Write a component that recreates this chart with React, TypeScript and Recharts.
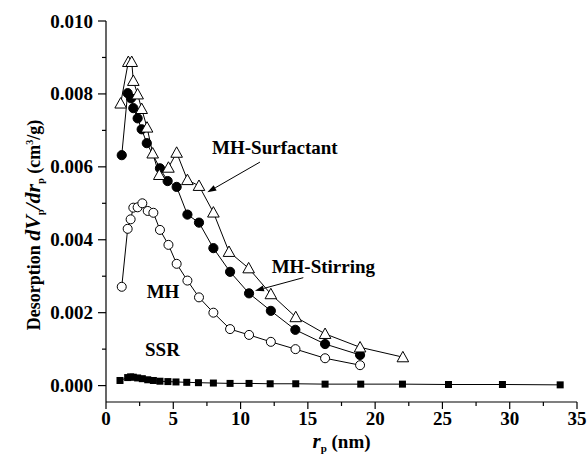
import React from 'react';
import { ComposedChart, Line, XAxis, YAxis, ReferenceLine, ReferenceDot } from 'recharts';

// MH-Surfactant (open triangles)
const surfX = [1.09, 1.66, 1.91, 2.03, 2.35, 2.65, 3.05, 3.47, 3.96, 4.64, 5.25, 6.05, 6.91, 7.98, 9.14, 10.6, 12.25, 14.1, 16.28, 18.88, 22.06];
const surfY = [0.00774, 0.00888, 0.00888, 0.00836, 0.00799, 0.00759, 0.00708, 0.00637, 0.00578, 0.00598, 0.00639, 0.00564, 0.00548, 0.00475, 0.00367, 0.00322, 0.00251, 0.00188, 0.00142, 0.00105, 0.00078];

// MH-Stirring (filled circles)
const stirX = [1.17, 1.61, 1.86, 2.03, 2.35, 2.65, 3.03, 4.01, 4.58, 5.25, 6.05, 6.91, 7.98, 9.22, 10.63, 12.25, 14.07, 16.28, 18.88];
const stirY = [0.00632, 0.00802, 0.00788, 0.00761, 0.00733, 0.00703, 0.00665, 0.00596, 0.00561, 0.00545, 0.00469, 0.00447, 0.00377, 0.00312, 0.00253, 0.00205, 0.00153, 0.00114, 0.00084];

// MH (open circles)
const mhX = [1.17, 1.61, 1.83, 2.03, 2.35, 2.7, 3.1, 3.52, 4.01, 4.64, 5.25, 6.05, 6.91, 7.98, 9.22, 10.63, 12.25, 14.08, 16.28, 18.88];
const mhY = [0.00271, 0.0043, 0.00456, 0.00488, 0.00489, 0.005, 0.00479, 0.00474, 0.00427, 0.00386, 0.00334, 0.00288, 0.00242, 0.002, 0.00155, 0.00139, 0.0012, 0.001, 0.00075, 0.00056];

// SSR (filled squares)
const ssrX = [1.04, 1.61, 1.83, 2.03, 2.35, 2.7, 3.1, 3.52, 4.01, 4.6, 5.2, 6.0, 6.87, 7.98, 9.22, 10.63, 12.2, 14.1, 16.28, 18.93, 22.03, 25.45, 29.46, 33.75];
const ssrY = [0.00014, 0.00022, 0.00024, 0.00023, 0.00021, 0.00019, 0.00016, 0.00014, 0.00012, 0.00011, 0.0001, 0.00009, 0.00008, 0.00007, 0.00006, 0.00006, 0.00005, 0.00005, 0.00004, 0.00004, 0.00004, 0.00003, 0.00003, 0.00002];

const xTicks = [0, 2.5, 5, 7.5, 10, 12.5, 15, 17.5, 20, 22.5, 25, 27.5, 30, 32.5, 35];
const yTicks = [0, 0.001, 0.002, 0.003, 0.004, 0.005, 0.006, 0.007, 0.008, 0.009, 0.01];
const xDomain = [0, 35];
const yDomain = [-0.00045, 0.01];

// annotations [x, y] in data units
const labelSurf = { text: 'MH-Surfactant', x: 7.88, y: 0.00654 };
const arrowSurf = [{ x: 11.44, y: 0.00613 }, { x: 7.53, y: 0.0053 }];
const labelStir = { text: 'MH-Stirring', x: 12.31, y: 0.00327 };
const arrowStir = [{ x: 14.66, y: 0.00296 }, { x: 11.07, y: 0.0026 }];
const labelMH = { text: 'MH', x: 3.02, y: 0.00258 };
const labelSSR = { text: 'SSR', x: 2.9, y: 0.00098 };

const zip = (xs: number[], ys: number[]) => xs.map((x, i) => ({ x, y: ys[i] }));
const surfData = zip(surfX, surfY);
const stirData = zip(stirX, stirY);
const mhData = zip(mhX, mhY);
const ssrData = zip(ssrX, ssrY);

const FONT = '"Liberation Serif", "Times New Roman", serif';

const XTick = (props: any) => {
  const { x, y, payload } = props;
  const v = payload.value;
  const major = Math.abs(v % 5) < 1e-9;
  return (
    <g>
      <line x1={x} x2={x} y1={y} y2={y + (major ? 7 : 4)} stroke="#000" strokeWidth={1.2} />
      {major && (
        <text x={x} y={y + 23} textAnchor="middle" fontFamily={FONT} fontWeight="bold" fontSize={19} fill="#000">
          {v}
        </text>
      )}
    </g>
  );
};

const YTick = (props: any) => {
  const { x, y, payload } = props;
  const v = payload.value;
  const major = Math.round(v * 1000) % 2 === 0;
  return (
    <g>
      <line x1={x} x2={x - (major ? 8 : 4)} y1={y} y2={y} stroke="#000" strokeWidth={1.2} />
      {major && (
        <text x={x - 13} y={y + 6.5} textAnchor="end" fontFamily={FONT} fontWeight="bold" fontSize={19} fill="#000">
          {v.toFixed(3)}
        </text>
      )}
    </g>
  );
};

const triDot = (p: any) => {
  const { cx, cy, index } = p;
  const s = 5.8;
  return (
    <path key={`t${index}`} d={`M${cx},${cy - s} L${cx + s},${cy + s * 0.8} L${cx - s},${cy + s * 0.8} Z`} fill="#fff" stroke="#000" strokeWidth={1} />
  );
};
const fillCircle = (p: any) => <circle key={`f${p.index}`} cx={p.cx} cy={p.cy} r={4.6} fill="#000" stroke="#000" />;
const openCircle = (p: any) => <circle key={`o${p.index}`} cx={p.cx} cy={p.cy} r={4.5} fill="#fff" stroke="#000" strokeWidth={1} />;
const squareDot = (p: any) => <rect key={`s${p.index}`} x={p.cx - 3.5} y={p.cy - 3.5} width={7} height={7} fill="#000" />;

const Arrow = (props: any) => {
  const { x1, y1, x2, y2 } = props;
  const dx = x2 - x1;
  const dy = y2 - y1;
  const len = Math.sqrt(dx * dx + dy * dy) || 1;
  const ux = dx / len;
  const uy = dy / len;
  const L = 9;
  const W = 3;
  const bx = x2 - ux * L;
  const by = y2 - uy * L;
  return (
    <g>
      <line x1={x1} y1={y1} x2={bx} y2={by} stroke="#000" strokeWidth={1} />
      <polygon points={`${x2},${y2} ${bx - uy * W},${by + ux * W} ${bx + uy * W},${by - ux * W}`} fill="#000" />
    </g>
  );
};

const makeLabel = (text: string) => (p: any) => (
  <text x={p.cx} y={p.cy} dominantBaseline="central" textAnchor="start" fontFamily={FONT} fontWeight="bold" fontSize={19} fill="#000">
    {text}
  </text>
);

const XTitle = (props: any) => {
  const vb = props.viewBox || { x: 106, y: 402, width: 471 };
  const cx = vb.x + vb.width / 2;
  return (
    <text x={cx} y={vb.y + 46} textAnchor="middle" fontFamily={FONT} fontWeight="bold" fontSize={19} fill="#000">
      <tspan fontStyle="italic" fontSize={21}>r</tspan>
      <tspan fontSize={11} dy={4}>p</tspan>
      <tspan dy={-4}> (nm)</tspan>
    </text>
  );
};

const YTitle = () => (
  <text x={0} y={0} transform="translate(40,225) rotate(-90)" textAnchor="middle" fontFamily={FONT} fontWeight="bold" fontSize={18} fill="#000">
    <tspan>Desorption </tspan>
    <tspan fontStyle="italic" fontSize={22}>dV</tspan>
    <tspan fontSize={10} dy={4}>p</tspan>
    <tspan fontStyle="italic" fontSize={22} dy={-4}>/dr</tspan>
    <tspan fontSize={10} dy={4}>p</tspan>
    <tspan dy={-4}> (cm</tspan>
    <tspan fontSize={10} dy={-7}>3</tspan>
    <tspan dy={7}>/g)</tspan>
  </text>
);

export default function App() {
  return (
    <div style={{ position: 'absolute', left: 0, top: 0, width: 588, height: 459, background: '#fff' }}>
      <ComposedChart width={588} height={459} margin={{ top: 21, right: 11, bottom: 27, left: 46 }}>
        <XAxis
          type="number"
          dataKey="x"
          domain={xDomain}
          ticks={xTicks}
          interval={0}
          allowDataOverflow
          height={30}
          tickSize={0}
          tickMargin={0}
          tickLine={false}
          axisLine={{ stroke: '#000', strokeWidth: 1.2 }}
          tick={<XTick />}
          label={<XTitle />}
        />
        <YAxis
          type="number"
          domain={yDomain}
          ticks={yTicks}
          interval={0}
          allowDataOverflow
          width={60}
          tickSize={0}
          tickMargin={0}
          tickLine={false}
          axisLine={{ stroke: '#000', strokeWidth: 1.2 }}
          tick={<YTick />}
        />
        <Line data={ssrData} dataKey="y" type="linear" stroke="#000" strokeWidth={1} dot={squareDot} isAnimationActive={false} />
        <Line data={mhData} dataKey="y" type="linear" stroke="#000" strokeWidth={1} dot={openCircle} isAnimationActive={false} />
        <Line data={stirData} dataKey="y" type="linear" stroke="#000" strokeWidth={1} dot={fillCircle} isAnimationActive={false} />
        <Line data={surfData} dataKey="y" type="linear" stroke="#000" strokeWidth={1} dot={triDot} isAnimationActive={false} />
        <ReferenceLine segment={arrowSurf} shape={Arrow} ifOverflow="visible" />
        <ReferenceLine segment={arrowStir} shape={Arrow} ifOverflow="visible" />
        <ReferenceDot x={labelSurf.x} y={labelSurf.y} r={0} shape={makeLabel(labelSurf.text)} ifOverflow="visible" />
        <ReferenceDot x={labelStir.x} y={labelStir.y} r={0} shape={makeLabel(labelStir.text)} ifOverflow="visible" />
        <ReferenceDot x={labelMH.x} y={labelMH.y} r={0} shape={makeLabel(labelMH.text)} ifOverflow="visible" />
        <ReferenceDot x={labelSSR.x} y={labelSSR.y} r={0} shape={makeLabel(labelSSR.text)} ifOverflow="visible" />
      </ComposedChart>
      <svg width={588} height={459} style={{ position: 'absolute', left: 0, top: 0, pointerEvents: 'none' }}>
        <YTitle />
      </svg>
    </div>
  );
}
